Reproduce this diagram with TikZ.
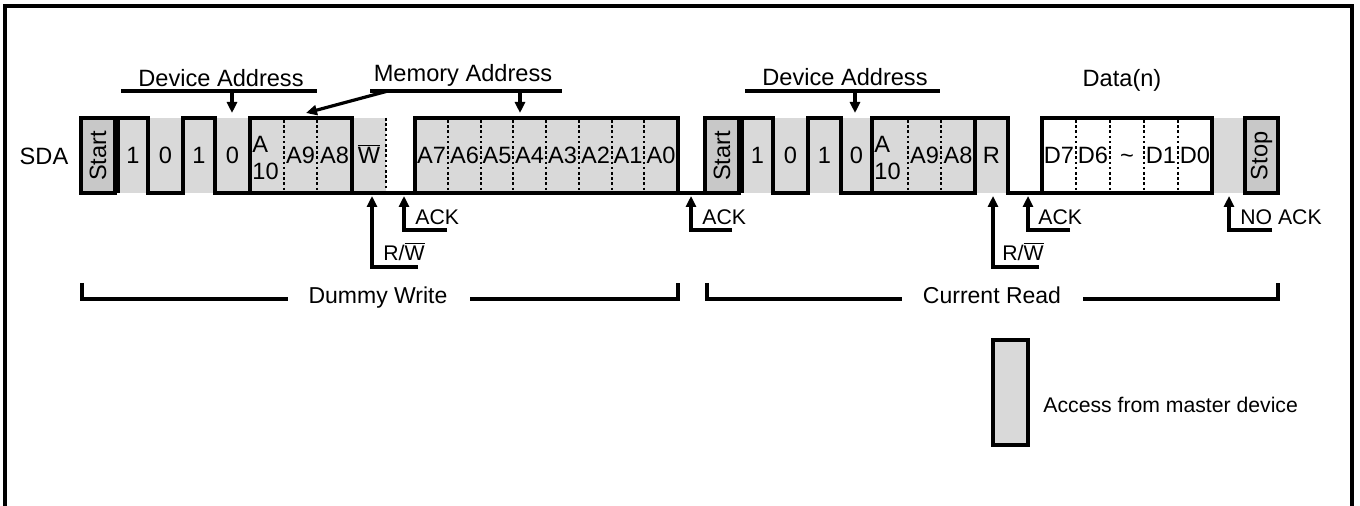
\documentclass[tikz,border=0pt]{standalone}
\usepackage{fontspec}
\setmainfont{Liberation Sans}
\usetikzlibrary{arrows.meta}
\definecolor{litegray}{HTML}{D9D9D9}
\definecolor{boxgray}{HTML}{C8C8C8}
\newcommand\mainsz{\fontsize{11.8pt}{14pt}\selectfont}
\newcommand\labsz{\fontsize{10.6pt}{13pt}\selectfont}
\newcommand\wbar{$\overline{\mbox{W}}$}
\begin{document}
\begin{tikzpicture}[x=0.5pt,y=-0.5pt]
\tikzset{
  wave/.style={line width=1.6pt},
  dotline/.style={line width=1.4pt, dash pattern=on 1.3pt off 1.3pt},
  arr/.style={line width=1.6pt,-{Triangle[length=5.5pt,width=5pt]}},
  bit/.style={inner sep=0pt, anchor=base, font=\mainsz},
  lab/.style={inner sep=0pt, anchor=base west, font=\labsz},
  ttl/.style={inner sep=0pt, anchor=base, font=\mainsz},
}
\useasboundingbox (0,0) rectangle (1360,506);
% frame
\draw[line width=1.6pt] (5,520) -- (5,6) -- (1352,6) -- (1352,520);
% shading (master access)
\fill[litegray] (117,118) rectangle (386,193);
\fill[litegray] (415,118) rectangle (678,193);
\fill[litegray] (740,118) rectangle (1008,193);
\fill[litegray] (1212,118) rectangle (1245,193);
% ---------- Dummy write ----------
\draw[wave, fill=boxgray] (81,118) rectangle (115,193);
\draw[wave] (118,193) -- (118,118) -- (148,118) -- (148,193) -- (183,193) -- (183,118)
  -- (215,118) -- (215,193) -- (705,193);
\draw[wave] (250,118) rectangle (352,193);
\draw[wave] (415,118) rectangle (678,193);
\foreach \x in {284,317} \draw[dotline] (\x,120) -- (\x,191);
\draw[dotline] (386,118) -- (386,192);
\foreach \x in {448,481,513,546,579,612,644} \draw[dotline] (\x,120) -- (\x,191);
% ---------- Current read ----------
\draw[wave, fill=boxgray] (705,118) rectangle (739,193);
\draw[wave] (742,193) -- (742,118) -- (773,118) -- (773,193) -- (808,193) -- (808,118)
  -- (841,118) -- (841,193) -- (975,193);
\draw[wave] (872,118) rectangle (975,193);
\draw[wave] (975,118) -- (1008,118) -- (1008,193) -- (1212,193);
\draw[wave, fill=white] (1042,118) rectangle (1212,193);
\foreach \x in {908,941} \draw[dotline] (\x,120) -- (\x,191);
\foreach \x in {1076,1110,1144,1178} \draw[dotline] (\x,120) -- (\x,191);
\draw[wave, fill=boxgray] (1245,118) rectangle (1278,193);
% ---------- texts in waveform ----------
\node[inner sep=0pt, font=\mainsz] (sda) at (44,156) {SDA};
\node[inner sep=0pt, rotate=90, font=\mainsz] (st1) at (98,156) {Start};
\node[inner sep=0pt, rotate=90, font=\mainsz] (st2) at (722,156) {Start};
\node[inner sep=0pt, rotate=90, font=\mainsz] (stp) at (1261.5,156) {Stop};
\node[bit] (b1) at (133,164) {1};
\node[bit] (b2) at (165.5,164) {0};
\node[bit] (b3) at (199,164) {1};
\node[bit] (b4) at (232.5,164) {0};
\node[bit, anchor=base west] (a10a) at (252,153) {A};
\node[bit, anchor=base west] (a10b) at (252,180) {10};
\node[bit] (a9) at (300.5,164) {A9};
\node[bit] (a8) at (334.5,164) {A8};
\node[bit] (wb) at (369,164) {\wbar};
\foreach \x/\t in {431.5/A7,464.5/A6,497/A5,529.5/A4,562.5/A3,595.5/A2,628/A1,661/A0}
  \node[bit] at (\x,164) {\t};
\node[bit] (c1) at (757.5,164) {1};
\node[bit] (c2) at (790.5,164) {0};
\node[bit] (c3) at (824.5,164) {1};
\node[bit] (c4) at (856.5,164) {0};
\node[bit, anchor=base west] (c10a) at (874,153) {A};
\node[bit, anchor=base west] (c10b) at (874,180) {10};
\node[bit] (c9) at (924.5,164) {A9};
\node[bit] (c8) at (958,164) {A8};
\node[bit] (rr) at (991.5,164) {R};
\foreach \x/\t in {1059/D7,1093/D6,1127/\textasciitilde,1161/D1,1195/D0}
  \node[bit] at (\x,164) {\t};
% ---------- top labels ----------
\node[ttl] (dev1) at (221,87) {Device Address};
\draw[wave] (121,91) -- (317,91);
\coordinate (d1a) at (232,91); \coordinate (d1t) at (232,113);
\draw[arr] (d1a) -- (d1t);
\node[ttl] (mem) at (463,82) {Memory Address};
\draw[wave] (370,91) -- (562,91);
\coordinate (m1a) at (520,91); \coordinate (m1t) at (520,113);
\draw[arr] (m1a) -- (m1t);
\coordinate (m2a) at (388,91); \coordinate (m2t) at (306,113);
\draw[arr] (m2a) -- (m2t);
\node[ttl] (dev2) at (845,86) {Device Address};
\draw[wave] (745,91) -- (940,91);
\coordinate (d2a) at (855,91); \coordinate (d2t) at (855,113);
\draw[arr] (d2a) -- (d2t);
\node[ttl] (data) at (1122,87) {Data(n)};
% ---------- bottom arrows ----------
\coordinate (rw1s) at (418,267); \coordinate (rw1c) at (372,267); \coordinate (rw1t) at (372,196);
\draw[arr] (rw1s) -- (rw1c) -- (rw1t);
\node[lab] (rw1l) at (383,261) {R/\wbar};
\coordinate (ak1s) at (447,230); \coordinate (ak1c) at (404,230); \coordinate (ak1t) at (404,196);
\draw[arr] (ak1s) -- (ak1c) -- (ak1t);
\node[lab] (ak1l) at (415,225) {ACK};
\coordinate (ak2s) at (732,230); \coordinate (ak2c) at (691,230); \coordinate (ak2t) at (691,196);
\draw[arr] (ak2s) -- (ak2c) -- (ak2t);
\node[lab] (ak2l) at (702,225) {ACK};
\coordinate (rw2s) at (1039,267); \coordinate (rw2c) at (993,267); \coordinate (rw2t) at (993,196);
\draw[arr] (rw2s) -- (rw2c) -- (rw2t);
\node[lab] (rw2l) at (1002,261) {R/\wbar};
\coordinate (ak3s) at (1070,230); \coordinate (ak3c) at (1028,230); \coordinate (ak3t) at (1028,196);
\draw[arr] (ak3s) -- (ak3c) -- (ak3t);
\node[lab] (ak3l) at (1038,225) {ACK};
\coordinate (naks) at (1272,230); \coordinate (nakc) at (1229,230); \coordinate (nakt) at (1229,196);
\draw[arr] (naks) -- (nakc) -- (nakt);
\node[lab] (nakl) at (1240,225) {NO ACK};
% ---------- brackets ----------
\node[ttl, font=\fontsize{11.5pt}{14pt}\selectfont] (dw) at (378,304) {Dummy Write};
\draw[wave] (82,283) -- (82,299) -- (288,299);
\draw[wave] (470,299) -- (678,299) -- (678,283);
\node[ttl, font=\fontsize{11.5pt}{14pt}\selectfont] (cr) at (992,304) {Current Read};
\draw[wave] (707,283) -- (707,299) -- (902,299);
\draw[wave] (1083,299) -- (1278,299) -- (1278,283);
% ---------- legend ----------
\draw[wave, fill=litegray] (993,340) rectangle (1028,445);
\node[lab] (leg) at (1043,413) {Access from master device};
\end{tikzpicture}
\end{document}
